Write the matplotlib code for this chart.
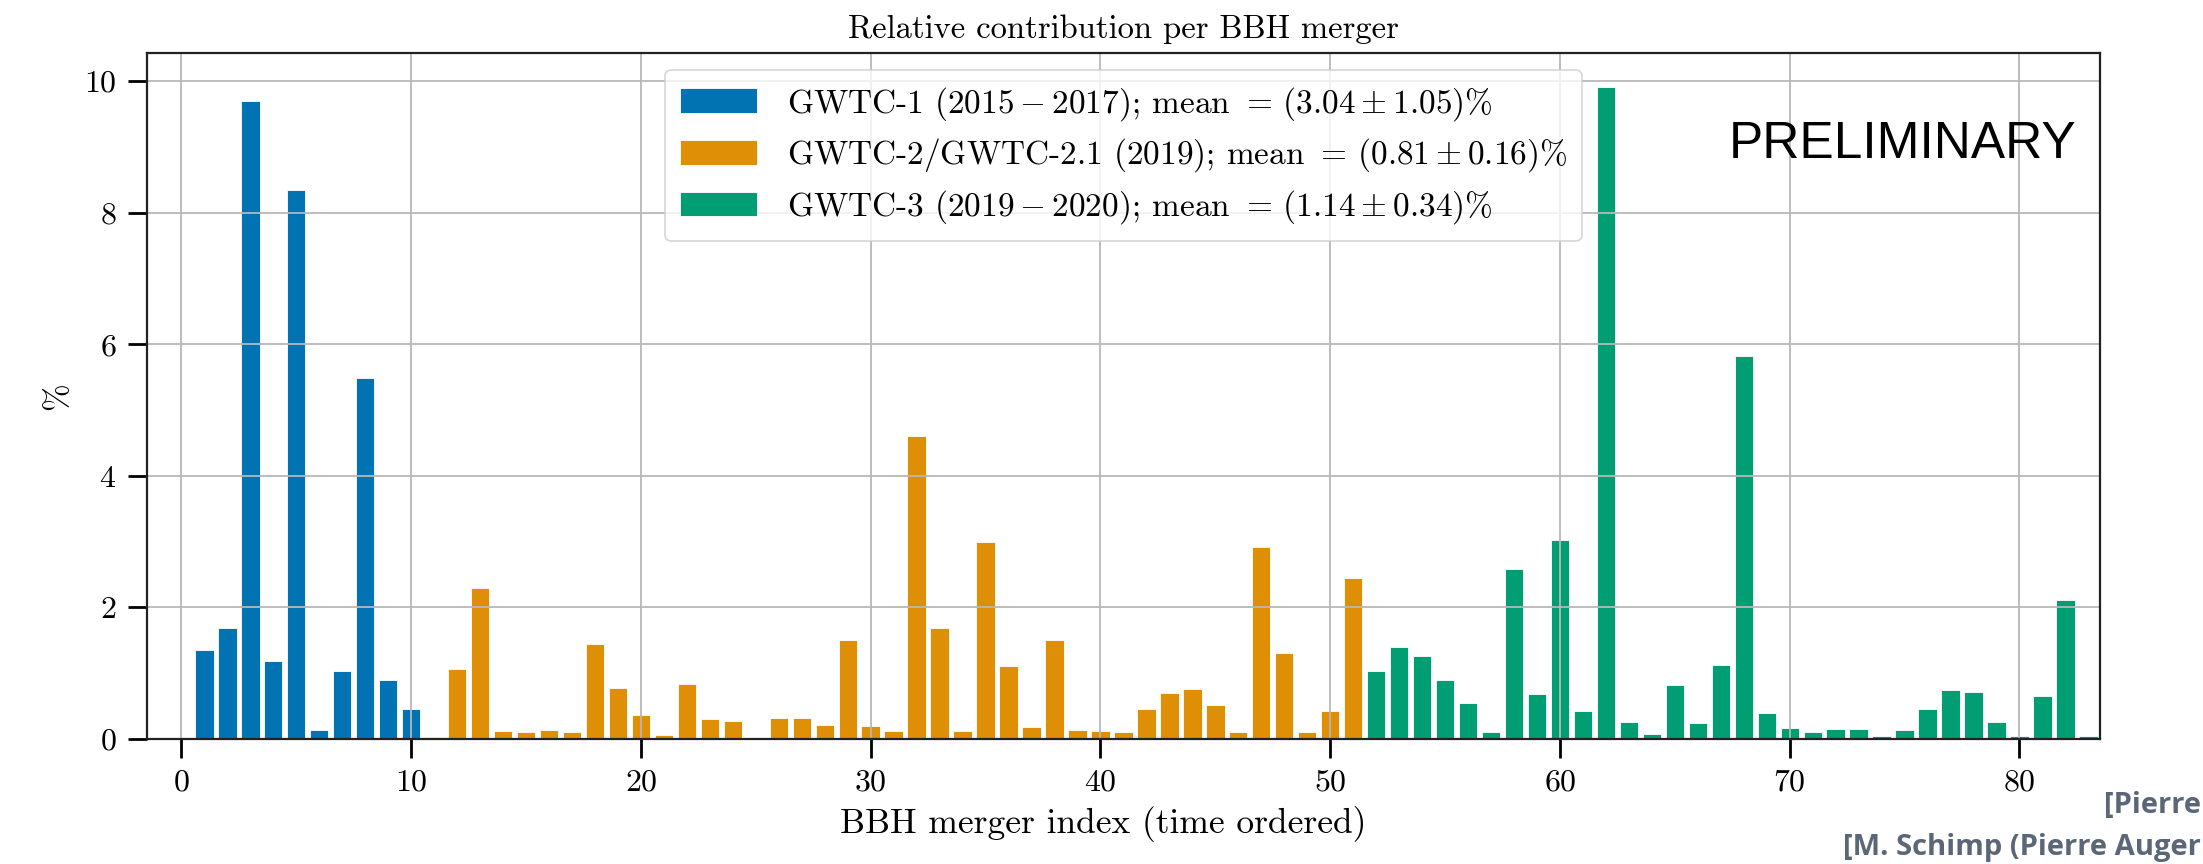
import numpy as np
import matplotlib
matplotlib.use("Agg")
import matplotlib.pyplot as plt

# Relative contribution (%) of each binary black hole merger, in time order
gwtc1_index = list(range(1, 11))
gwtc1_values = [1.35, 1.69, 9.70, 1.19, 8.35, 0.13, 1.04, 5.49, 0.89, 0.45]

gwtc2_index = list(range(11, 52))
gwtc2_values = [0.025, 1.07, 2.29, 0.12, 0.10, 0.13, 0.11, 1.44, 0.77, 0.36,
                0.06, 0.83, 0.31, 0.28, 0.00, 0.32, 0.32, 0.21, 1.51, 0.20,
                0.12, 4.60, 1.68, 0.12, 2.99, 1.11, 0.18, 1.50, 0.13, 0.12,
                0.10, 0.46, 0.70, 0.76, 0.51, 0.11, 2.92, 1.30, 0.10, 0.42,
                2.45]

gwtc3_index = list(range(52, 84))
gwtc3_values = [1.04, 1.40, 1.26, 0.90, 0.55, 0.10, 2.58, 0.69, 3.02, 0.43,
                9.91, 0.26, 0.08, 0.82, 0.24, 1.12, 5.83, 0.39, 0.17, 0.11,
                0.15, 0.15, 0.04, 0.13, 0.46, 0.74, 0.72, 0.26, 0.05, 0.65,
                2.11, 0.04]

labels = [
    r"GWTC-1 $(2015-2017)$; mean $=\,(3.04\pm1.05)\%$",
    r"GWTC-2/GWTC-2.1 $(2019)$; mean $=\,(0.81\pm0.16)\%$",
    r"GWTC-3 $(2019-2020)$; mean $=\,(1.14\pm0.34)\%$",
]
colors = ["#0173B2", "#DE8F05", "#029E73"]

xticks = [0, 10, 20, 30, 40, 50, 60, 70, 80]
yticks = [0, 2, 4, 6, 8, 10]

plt.rcParams.update({
    "font.family": "serif",
    "font.serif": ["cmr10"],
    "mathtext.fontset": "cm",
    "axes.unicode_minus": False,
    "axes.formatter.use_mathtext": True,
    "font.size": 23,
})

fig = plt.figure(figsize=(22.03, 8.64), dpi=100)
ax = fig.add_axes([0.0667, 0.1447, 0.9532 - 0.0667, 0.9387 - 0.1447])

for idx, vals, col, lab in zip([gwtc1_index, gwtc2_index, gwtc3_index],
                               [gwtc1_values, gwtc2_values, gwtc3_values],
                               colors, labels):
    ax.bar(idx, vals, width=0.8, color=col, edgecolor="white",
           linewidth=0.6, label=lab)

ax.set_xlim(-1.5, 83.5)
ax.set_ylim(0, 10.43)
ax.set_xticks(xticks)
ax.set_yticks(yticks)
ax.grid(True, color="#b8b8b8", linewidth=1.3)

for sp in ax.spines.values():
    sp.set_linewidth(1.6)
    sp.set_color("#222222")
ax.tick_params(axis="both", direction="out", length=14, width=2.0,
               labelsize=23, pad=8)

ax.set_title("Relative contribution per BBH merger", fontsize=23.5, pad=11)
ax.set_xlabel("BBH merger index (time ordered)", fontsize=25.5)
ax.xaxis.set_label_coords(0.4895, -0.097)
ax.set_ylabel(r"%", fontsize=24, labelpad=8)

leg = ax.legend(loc="upper center", fontsize=24, handlelength=2.3,
                handleheight=0.75, borderpad=0.45, labelspacing=0.42,
                handletextpad=0.9, bbox_to_anchor=(0.5, 1.0))
leg.get_frame().set_linewidth(1.2)

ax.text(0.988, 0.866, "PRELIMINARY", transform=ax.transAxes,
        ha="right", va="center", fontsize=37,
        family=["Liberation Sans", "DejaVu Sans"])

fig.text(0.999, 1 - 806 / 864, "[Pierre", ha="right", va="center",
         fontsize=21, fontweight="bold", color="#5b6677",
         family=["Open Sans", "DejaVu Sans"])
fig.text(0.999, 1 - 847 / 864, "[M. Schimp (Pierre Auger",
         ha="right", va="center", fontsize=21, fontweight="bold",
         color="#5b6677", family=["Open Sans", "DejaVu Sans"])

fig.savefig("out.png", dpi=100)
